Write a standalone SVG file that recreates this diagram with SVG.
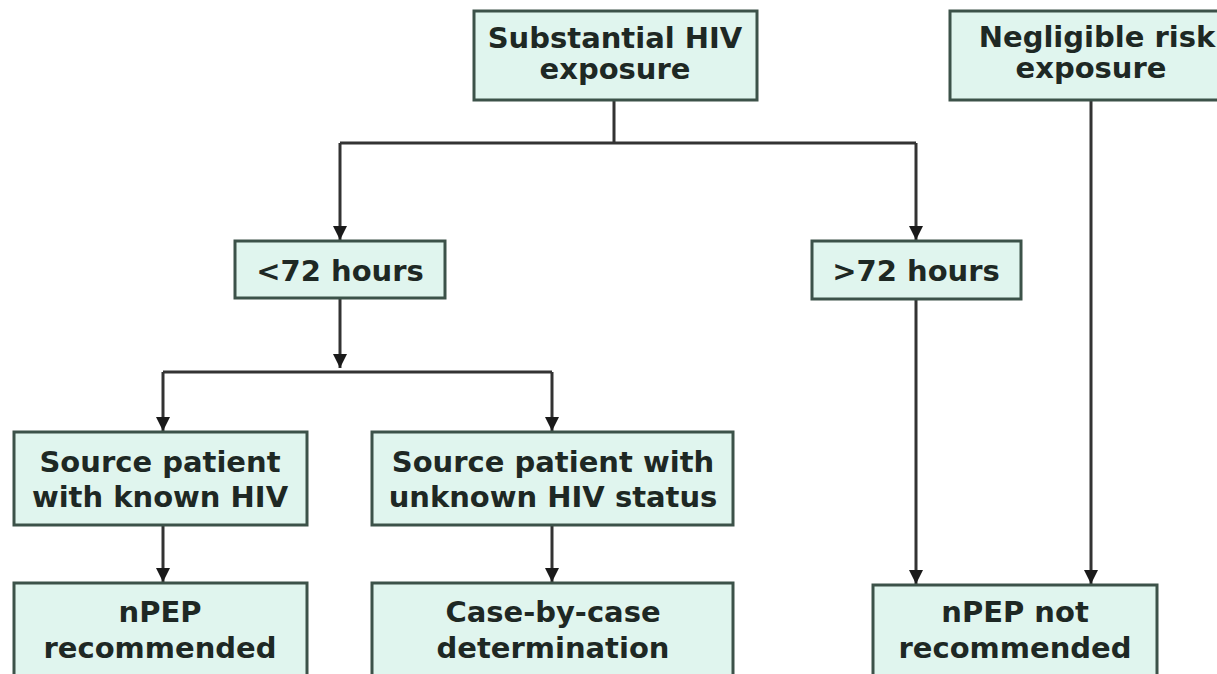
<svg xmlns="http://www.w3.org/2000/svg" width="1217" height="674" viewBox="0 0 1217 674">
  <defs>
    <marker id="arrow" viewBox="0 0 10 10" refX="10" refY="5" markerWidth="14" markerHeight="15" markerUnits="userSpaceOnUse" orient="auto">
      <path d="M0,0 L10,5 L0,10 Z" fill="#1a1a1a"/>
    </marker>
    <style>
      .box { fill: #e0f5ee; stroke: #3c5249; stroke-width: 3; }
      .lbl { font-family: "DejaVu Sans", "Liberation Sans", sans-serif; font-weight: bold; font-size: 29px; fill: #1e2824; text-anchor: middle; }
      .wire { fill: none; stroke: #333; stroke-width: 3; }
    </style>
  </defs>
  <rect width="1217" height="674" fill="#fff"/>

  <g id="connectors">
    <path class="wire" d="M614,101 V143 M340,143 H916"/>
    <path class="wire" d="M340,143 V240" marker-end="url(#arrow)"/>
    <path class="wire" d="M916,143 V240" marker-end="url(#arrow)"/>
    <path class="wire" d="M340,299 V368" marker-end="url(#arrow)"/>
    <path class="wire" d="M163,372 H552"/>
    <path class="wire" d="M163,372 V431" marker-end="url(#arrow)"/>
    <path class="wire" d="M552,372 V431" marker-end="url(#arrow)"/>
    <path class="wire" d="M163,526 V582" marker-end="url(#arrow)"/>
    <path class="wire" d="M552,526 V582" marker-end="url(#arrow)"/>
    <path class="wire" d="M916,299 V584" marker-end="url(#arrow)"/>
    <path class="wire" d="M1091,101 V584" marker-end="url(#arrow)"/>
  </g>

  <g id="substantial">
    <rect class="box" x="474" y="11" width="283" height="89"/>
    <text class="lbl" x="615" y="48">Substantial HIV</text>
    <text class="lbl" x="615" y="79">exposure</text>
  </g>

  <g id="negligible">
    <rect class="box" x="950" y="11" width="282" height="89"/>
    <text class="lbl" x="1097" y="47">Negligible risk</text>
    <text class="lbl" x="1091" y="78">exposure</text>
  </g>

  <g id="under72">
    <rect class="box" x="235" y="241" width="210" height="57"/>
    <text class="lbl" x="340" y="281">&lt;72 hours</text>
  </g>

  <g id="over72">
    <rect class="box" x="812" y="241" width="209" height="58"/>
    <text class="lbl" x="916" y="281">&gt;72 hours</text>
  </g>

  <g id="known">
    <rect class="box" x="14" y="432" width="293" height="93"/>
    <text class="lbl" x="160" y="472">Source patient</text>
    <text class="lbl" x="160" y="507">with known HIV</text>
  </g>

  <g id="unknown">
    <rect class="box" x="372" y="432" width="361" height="93"/>
    <text class="lbl" x="553" y="472">Source patient with</text>
    <text class="lbl" x="553" y="507">unknown HIV status</text>
  </g>

  <g id="recommended">
    <rect class="box" x="14" y="583" width="293" height="100"/>
    <text class="lbl" x="160" y="622">nPEP</text>
    <text class="lbl" x="160" y="658">recommended</text>
  </g>

  <g id="casebycase">
    <rect class="box" x="372" y="583" width="361" height="100"/>
    <text class="lbl" x="553" y="622">Case-by-case</text>
    <text class="lbl" x="553" y="658">determination</text>
  </g>

  <g id="notrecommended">
    <rect class="box" x="873" y="585" width="284" height="100"/>
    <text class="lbl" x="1015" y="622">nPEP not</text>
    <text class="lbl" x="1015" y="658">recommended</text>
  </g>
</svg>
